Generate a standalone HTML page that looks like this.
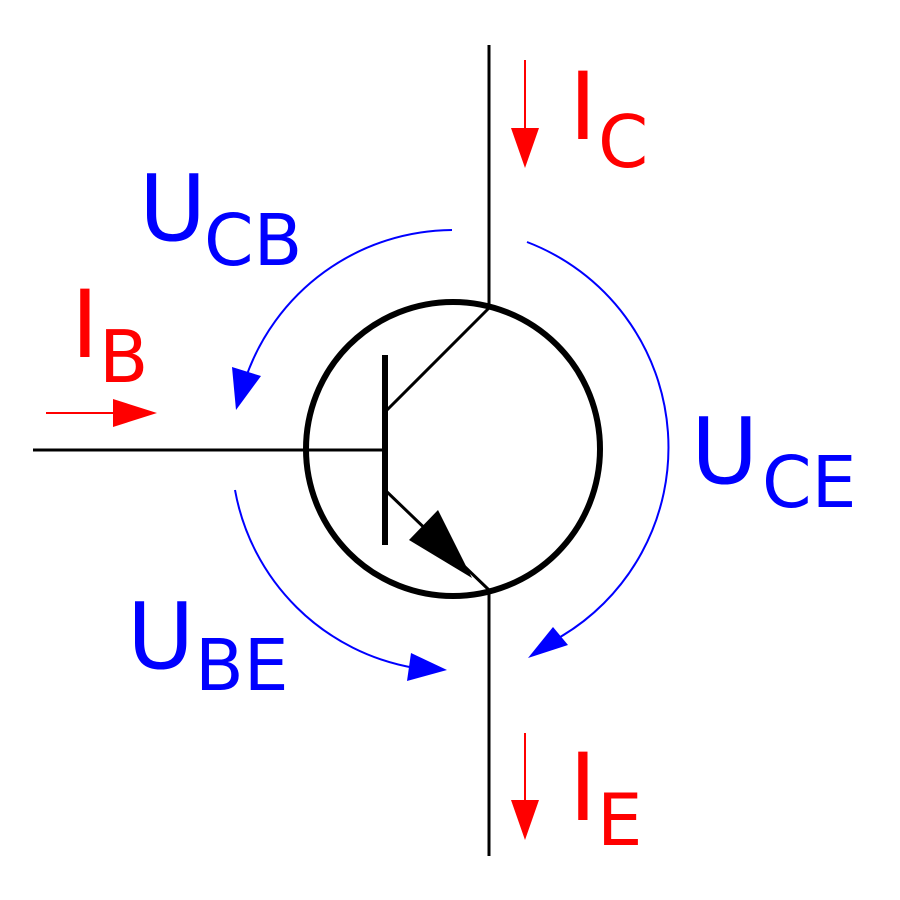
<!DOCTYPE html>
<html><head><meta charset="utf-8"><style>html,body{margin:0;padding:0;background:#fff}svg{display:block}text{font-family:"DejaVu Sans","Liberation Sans",sans-serif}</style></head>
<body>
<svg width="900" height="900" viewBox="0 0 900 900" xmlns="http://www.w3.org/2000/svg">
<rect width="900" height="900" fill="#fff"/>
<line x1="489" y1="45" x2="489" y2="308" stroke="#000" stroke-width="3"/>
<line x1="489" y1="590" x2="489" y2="856" stroke="#000" stroke-width="3"/>
<line x1="33" y1="450" x2="385" y2="450" stroke="#000" stroke-width="3"/>
<circle cx="453" cy="449" r="147" fill="none" stroke="#000" stroke-width="6"/>
<line x1="385" y1="355" x2="385" y2="545" stroke="#000" stroke-width="6"/>
<line x1="385" y1="412" x2="489" y2="308" stroke="#000" stroke-width="3"/>
<line x1="385" y1="490" x2="489" y2="590" stroke="#000" stroke-width="3"/>
<polygon points="409,540 438,510 472,578" fill="#000"/>
<line x1="525" y1="60" x2="525" y2="140" stroke="#f00" stroke-width="2"/>
<polygon points="511,128 539,128 525,168" fill="#f00"/>
<line x1="525" y1="733" x2="525" y2="812" stroke="#f00" stroke-width="2"/>
<polygon points="511,800 539,800 525,840" fill="#f00"/>
<line x1="46" y1="413" x2="120" y2="413" stroke="#f00" stroke-width="2"/>
<polygon points="113,399 113,427 157,413" fill="#f00"/>
<g fill="none" stroke="#00f" stroke-width="2">
<path d="M452,230 A220,220 0 0 0 245,380"/>
<path d="M527,242 A220,220 0 0 1 555,640"/>
<path d="M235,490 A220,220 0 0 0 415,668"/>
</g>
<polygon points="232,367 261,376 236,410" fill="#00f"/>
<polygon points="553,627 568,645 528,658" fill="#00f"/>
<polygon points="411,653 407,681 447,670" fill="#00f"/>
<g font-size="94" fill="#f00">
<text x="71" y="357">I</text>
<text x="569" y="139">I</text>
<text x="569" y="820">I</text>
</g>
<g font-size="72" fill="#f00">
<text x="99" y="382">B</text>
<text x="598" y="167">C</text>
<text x="597" y="845">E</text>
</g>
<g font-size="92" fill="#00f">
<text x="139" y="240">U</text>
<text x="691" y="483">U</text>
<text x="127" y="668">U</text>
</g>
<g font-size="71" fill="#00f">
<text x="204" y="265">CB</text>
<text x="762" y="507">CE</text>
<text x="195" y="690">BE</text>
</g>
</svg>
</body></html>
